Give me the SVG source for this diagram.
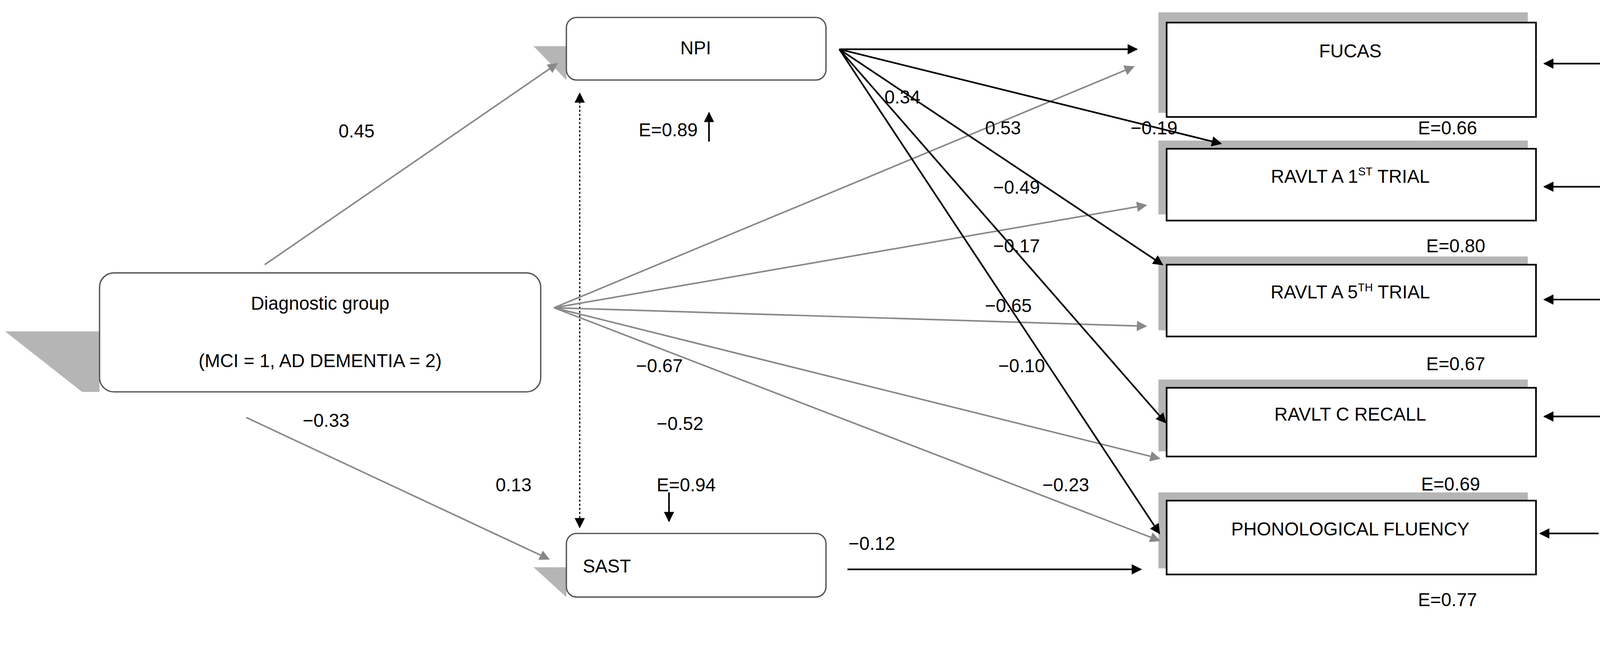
<svg xmlns="http://www.w3.org/2000/svg" width="4334" height="1672" viewBox="0 0 4334 1672">
<style>
text{font-family:"Liberation Sans",Arial,sans-serif;font-size:18px;fill:#000}
.rb{fill:#fff;stroke:#555;stroke-width:1.3}
.bx{fill:#fff;stroke:#000;stroke-width:1.6}
.sh{fill:#b5b5b5}
.k{stroke:#000;stroke-width:1.6;fill:none;marker-end:url(#ak)}
.g{stroke:#888;stroke-width:1.5;fill:none;marker-end:url(#ag)}
</style>
<defs>
<marker id="ak" viewBox="0 0 10 10" refX="9" refY="5" markerWidth="12" markerHeight="10" markerUnits="userSpaceOnUse" orient="auto"><path d="M0,0L10,5L0,10z" fill="#000"/></marker>
<marker id="ag" viewBox="0 0 10 10" refX="9" refY="5" markerWidth="12" markerHeight="10" markerUnits="userSpaceOnUse" orient="auto"><path d="M0,0L10,5L0,10z" fill="#888"/></marker>
<marker id="aks" viewBox="0 0 10 10" refX="5" refY="5" markerWidth="10" markerHeight="10" markerUnits="userSpaceOnUse" orient="auto-start-reverse"><path d="M0,0L10,5L0,10z" fill="#000"/></marker>
</defs>
<rect width="4334" height="1672" fill="#fff"/>
<g transform="scale(2.6267)">
<g id="diag"><path class="sh" d="M5,323L97,323L97,382L80,382Z"/><rect class="rb" x="97" y="266" width="430" height="116" rx="14"/><text x="312" y="302" text-anchor="middle">Diagnostic group</text><text x="312" y="358" text-anchor="middle">(MCI = 1, AD DEMENTIA = 2)</text></g>
<g id="npi"><path class="sh" d="M520,45L552,45L552,78Z"/><rect class="rb" x="552" y="17" width="253" height="61" rx="10"/><text x="678" y="53" text-anchor="middle">NPI</text></g>
<g id="sast"><path class="sh" d="M520,553L552,553L552,582Z"/><rect class="rb" x="552" y="520" width="253" height="62" rx="10"/><text x="568" y="558">SAST</text></g>
<g id="fucas"><rect class="sh" x="1129" y="12" width="360" height="98"/><rect class="bx" x="1137" y="22" width="360" height="92"/><text x="1316" y="56" text-anchor="middle">FUCAS</text></g>
<g id="ravlt1"><rect class="sh" x="1129" y="137" width="360" height="72"/><rect class="bx" x="1137" y="145" width="360" height="70"/><text x="1316" y="178" text-anchor="middle">RAVLT A 1<tspan font-size="11" dy="-7">ST</tspan><tspan dy="7"> TRIAL</tspan></text></g>
<g id="ravlt5"><rect class="sh" x="1129" y="250" width="360" height="72"/><rect class="bx" x="1137" y="258" width="360" height="70"/><text x="1316" y="291" text-anchor="middle">RAVLT A 5<tspan font-size="11" dy="-7">TH</tspan><tspan dy="7"> TRIAL</tspan></text></g>
<g id="ravltc"><rect class="sh" x="1129" y="370" width="360" height="70"/><rect class="bx" x="1137" y="378" width="360" height="67"/><text x="1316" y="410" text-anchor="middle">RAVLT C RECALL</text></g>
<g id="phon"><rect class="sh" x="1129" y="480" width="360" height="74"/><rect class="bx" x="1137" y="488" width="360" height="72"/><text x="1316" y="522" text-anchor="middle">PHONOLOGICAL FLUENCY</text></g>
<g id="connectors">
<line class="g" x1="258" y1="258" x2="543" y2="62"/>
<line class="g" x1="240" y1="407" x2="535" y2="545"/>
<line x1="565" y1="95" x2="565" y2="510" stroke="#000" stroke-width="1.2" stroke-dasharray="2,2" marker-start="url(#aks)" marker-end="url(#aks)"/>
<line class="k" x1="691" y1="138" x2="691" y2="110"/>
<line class="k" x1="652" y1="480" x2="652" y2="508"/>
<line class="g" x1="540" y1="300" x2="1105" y2="65"/>
<line class="g" x1="540" y1="300" x2="1117" y2="200"/>
<line class="g" x1="540" y1="300" x2="1117" y2="318"/>
<line class="g" x1="540" y1="300" x2="1130" y2="447"/>
<line class="g" x1="540" y1="300" x2="1130" y2="527"/>
<line class="k" x1="818" y1="48" x2="1108" y2="48"/>
<line class="k" x1="818" y1="48" x2="1190" y2="140"/>
<line class="k" x1="818" y1="48" x2="1133" y2="258"/>
<line class="k" x1="818" y1="48" x2="1136" y2="412"/>
<line class="k" x1="818" y1="48" x2="1130" y2="520"/>
<line class="k" x1="826" y1="555" x2="1112" y2="555"/>
<line class="k" x1="1562" y1="62" x2="1505" y2="62"/>
<line class="k" x1="1562" y1="182" x2="1505" y2="182"/>
<line class="k" x1="1562" y1="292" x2="1505" y2="292"/>
<line class="k" x1="1562" y1="406" x2="1505" y2="406"/>
<line class="k" x1="1558" y1="520" x2="1501" y2="520"/>
</g>
<g id="labels">
<text x="330" y="134">0.45</text>
<text x="295" y="416">−0.33</text>
<text x="483" y="479">0.13</text>
<text x="620" y="363">−0.67</text>
<text x="640" y="419">−0.52</text>
<text x="680" y="133" text-anchor="end">E=0.89</text>
<text x="640" y="479">E=0.94</text>
<text x="862" y="101">0.34</text>
<text x="960" y="131">0.53</text>
<text x="1102" y="131">−0.19</text>
<text x="968" y="189">−0.49</text>
<text x="968" y="246">−0.17</text>
<text x="960" y="304">−0.65</text>
<text x="973" y="363">−0.10</text>
<text x="1016" y="479">−0.23</text>
<text x="827" y="536">−0.12</text>
<text x="1382" y="131">E=0.66</text>
<text x="1390" y="246">E=0.80</text>
<text x="1390" y="361">E=0.67</text>
<text x="1385" y="478">E=0.69</text>
<text x="1382" y="591">E=0.77</text>
</g>
</g>
</svg>
